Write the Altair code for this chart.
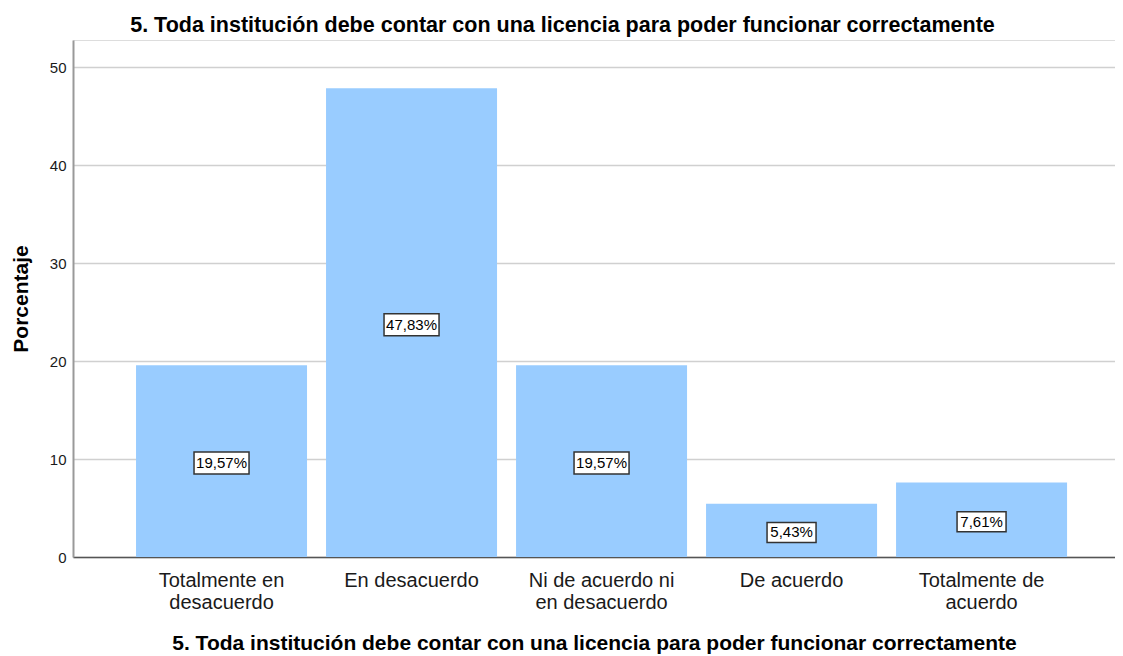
import altair as alt
import pandas as pd

categories = ["Totalmente en desacuerdo", "En desacuerdo", "Ni de acuerdo ni en desacuerdo",
              "De acuerdo", "Totalmente de acuerdo"]
tick_lines = [["Totalmente en", "desacuerdo"], ["En desacuerdo"], ["Ni de acuerdo ni", "en desacuerdo"],
              ["De acuerdo"], ["Totalmente de", "acuerdo"]]
values = [19.57, 47.83, 19.57, 5.43, 7.61]

title_text = "5. Toda institución debe contar con una licencia para poder funcionar correctamente"

df = pd.DataFrame({"cat": categories, "v": values})

label_expr = ""
for c, lines in zip(categories, tick_lines):
    arr = "[" + ",".join("'" + l + "'" for l in lines) + "]"
    label_expr += f"datum.label == '{c}' ? {arr} : "
label_expr += "datum.label"

FONT = "Liberation Sans"
W = 1042
H = 517
ymax = 52.76
px_per_unit = H / ymax
half_big = 11 / px_per_unit
half_small = 10 / px_per_unit

x_enc = alt.X("cat:N", sort=categories,
              scale=alt.Scale(paddingInner=0.1, paddingOuter=0.292, align=0.568),
              axis=alt.Axis(title=title_text, labelExpr=label_expr, labelAngle=0,
                            labelFontSize=20, labelColor="#1a1a1a", labelFont=FONT,
                            labelBaseline="top", labelPadding=13, labelLineHeight=22,
                            ticks=False, domainColor="#555", domainWidth=1.5,
                            titleFont=FONT, titleFontSize=21, titleFontWeight="bold",
                            titleColor="#000", titlePadding=20, grid=False))

y_enc = alt.Y("v:Q", scale=alt.Scale(domain=[0, ymax], nice=False, zero=True),
              axis=alt.Axis(title="Porcentaje", values=[0, 10, 20, 30, 40, 50],
                            labelFontSize=15, labelColor="#1a1a1a", labelFont=FONT,
                            labelPadding=7, ticks=False,
                            domainColor="#999", domainWidth=2,
                            gridColor="#d0d0d0", gridWidth=1.5,
                            titleFont=FONT, titleFontSize=21, titleFontWeight="bold",
                            titleColor="#000", titleAngle=270, titleAlign="center",
                            titleBaseline="middle", titleX=-52, titleY=H / 2))

base = alt.Chart(df)

bars = base.mark_bar(color="#99CCFF").encode(x=x_enc, y=y_enc)

boxed = base.transform_calculate(
    mid="datum.v / 2",
    lab="replace(format(datum.v, '.2f'), '.', ',') + '%'",
)

box_big = boxed.transform_filter("datum.v >= 10").transform_calculate(
    lo=f"datum.mid - {half_big}", hi=f"datum.mid + {half_big}"
).mark_bar(
    width=55, fill="white", stroke="#333", strokeWidth=1.5, yOffset=2, y2Offset=2
).encode(x=alt.X("cat:N", sort=categories), y="lo:Q", y2="hi:Q")

box_small = boxed.transform_filter("datum.v < 10").transform_calculate(
    lo=f"datum.mid - {half_small}", hi=f"datum.mid + {half_small}"
).mark_bar(
    width=49, fill="white", stroke="#333", strokeWidth=1.5, yOffset=2, y2Offset=2
).encode(x=alt.X("cat:N", sort=categories), y="lo:Q", y2="hi:Q")

texts = boxed.mark_text(font=FONT, fontSize=15, color="#000", baseline="middle", dy=2).encode(
    x=alt.X("cat:N", sort=categories), y="mid:Q", text="lab:N")

chart = alt.layer(bars, box_big, box_small, texts).properties(
    width=W, height=H,
    autosize=alt.AutoSizeParams(type="none"),
    padding={"left": 65, "top": 32, "right": 0, "bottom": 99},
    title=alt.TitleParams(title_text, font=FONT, fontSize=21.5, fontWeight="bold",
                          color="#000", anchor="middle", frame="bounds", offset=4),
).configure_view(stroke=None).configure(background="white")

chart.save("out.html", embed_options={"renderer": "svg", "actions": False})
